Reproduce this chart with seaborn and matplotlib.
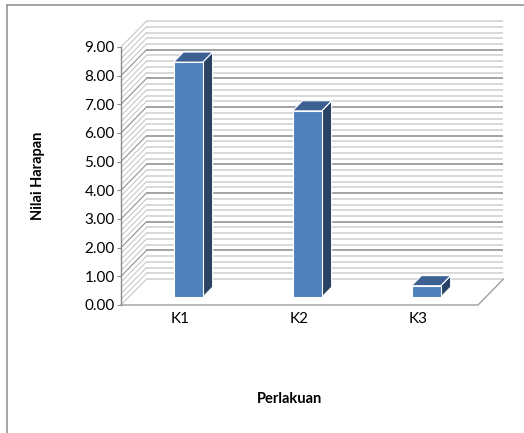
import matplotlib
matplotlib.use("Agg")
import numpy as np
import pandas as pd
import seaborn as sns
import matplotlib.pyplot as plt
from matplotlib.patches import Polygon
from matplotlib.lines import Line2D

# ---- data ----
categories = ["K1", "K2", "K3"]
values = [8.2, 6.5, 0.4]
y_ticks = [0, 1, 2, 3, 4, 5, 6, 7, 8, 9]
y_tick_labels = ["0.00", "1.00", "2.00", "3.00", "4.00", "5.00", "6.00", "7.00", "8.00", "9.00"]
x_title = "Perlakuan"
y_title = "Nilai Harapan"

sns.set_style("white")
plt.rcParams["font.family"] = ["Lato", "DejaVu Sans"]

W, H = 524, 433
fig = plt.figure(figsize=(W / 100, H / 100), dpi=100)
ax = fig.add_axes([121 / W, (H - 305) / H, 357 / W, 258 / H])

df = pd.DataFrame({"Perlakuan": categories, "Nilai": values})
sns.barplot(data=df, x="Perlakuan", y="Nilai", color="#4F81BD", saturation=1,
            width=0.245, ax=ax, edgecolor="white", linewidth=0.8, zorder=5)

x0, x1 = -0.5, len(categories) - 0.5
ymin, ymax = y_ticks[0], y_ticks[-1]
ax.set_xlim(x0, x1)
ax.set_ylim(ymin, ymax)

# oblique depth vector (data units) and bar placement in depth
DX, DY = 0.214, 0.905
F0, F1 = 0.3, 0.69

# back wall + left wall gridlines
levels = np.round(np.arange(ymin, ymax + 1e-9, 0.2), 2)
for v in levels:
    major = abs(v - round(v)) < 1e-6 and ymin < v < ymax
    col_b = "#9C9C9C" if major else "#D6D6D6"
    col_l = "#8E8E8E" if major else "#C8C8C8"
    ax.plot([x0 + DX, x1 + DX], [v + DY, v + DY], color=col_b, lw=1.3,
            clip_on=False, zorder=1, solid_capstyle="butt")
    ax.plot([x0, x0 + DX], [v, v + DY], color=col_l, lw=0.8,
            clip_on=False, zorder=1, solid_capstyle="butt")

# floor outline and front value axis
ax.plot([x0, x1, x1 + DX], [ymin, ymin, ymin + DY], color="#A0A0A0", lw=1.0,
        clip_on=False, zorder=2)
ax.plot([x0, x0], [ymin, ymax], color="#8A8A8A", lw=1.0, clip_on=False, zorder=3)

# 3D bars
for p in list(ax.patches):
    x = p.get_x()
    w = p.get_width()
    h = p.get_height()
    fx, fy = F0 * DX, F0 * DY
    bx, by = F1 * DX, F1 * DY
    p.set_xy((x + fx, ymin + fy))
    side = Polygon([(x + w + fx, fy), (x + w + fx, h + fy), (x + w + bx, h + by), (x + w + bx, by)],
                   closed=True, facecolor="#2A4365", edgecolor="white", lw=0.8,
                   clip_on=False, zorder=4)
    top = Polygon([(x + fx, h + fy), (x + w + fx, h + fy), (x + w + bx, h + by), (x + bx, h + by)],
                  closed=True, facecolor="#3C6091", edgecolor="white", lw=0.8,
                  clip_on=False, zorder=4)
    ax.add_patch(side)
    ax.add_patch(top)
    p.set_clip_on(False)

for s in ax.spines.values():
    s.set_visible(False)
ax.patch.set_alpha(0)

ax.set_yticks(y_ticks, y_tick_labels)
ax.tick_params(axis="y", left=True, length=3, width=0.8, color="#8A8A8A", pad=1.5,
               labelsize=11, labelcolor="black")
ax.tick_params(axis="x", bottom=False, length=0, pad=5, labelsize=11, labelcolor="black")

ax.set_xlabel(x_title, fontsize=10.5, fontweight="bold", color="black")
ax.set_ylabel(y_title, fontsize=10.5, fontweight="bold", color="black")
ax.xaxis.set_label_coords((290 - 121) / 357, (305 - 399) / 258)
ax.xaxis.label.set_va("center")
ax.yaxis.set_label_coords((38 - 121) / 357, 0.5)
ax.yaxis.label.set_va("center")

# chart border
fig.add_artist(Line2D([7 / W, 1.2], [1 - 5 / H, 1 - 5 / H], transform=fig.transFigure,
                      color="#8C8C8C", lw=1.1))
fig.add_artist(Line2D([7 / W, 7 / W], [1 - 5 / H, -0.2], transform=fig.transFigure,
                      color="#8C8C8C", lw=1.1))

fig.savefig("out.png", dpi=100)
